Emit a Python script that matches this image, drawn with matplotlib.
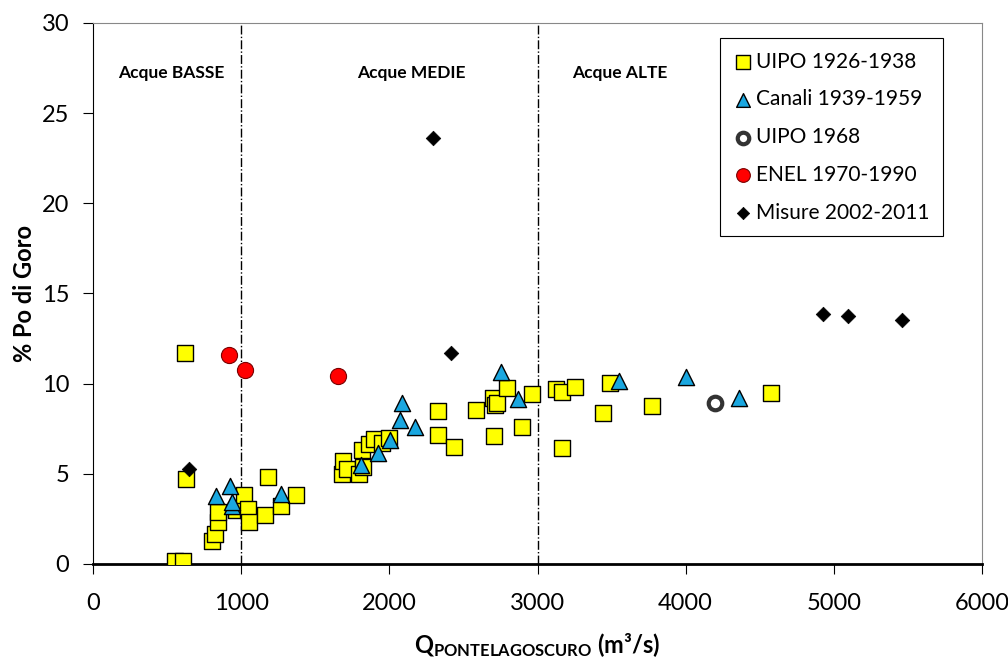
import matplotlib
matplotlib.use('Agg')
import matplotlib.pyplot as plt

plt.rcParams['font.family'] = ['Lato', 'DejaVu Sans']
plt.rcParams['mathtext.fontset'] = 'custom'
plt.rcParams['mathtext.bf'] = 'Lato:bold'
plt.rcParams['mathtext.rm'] = 'Lato'
plt.rcParams['mathtext.default'] = 'bf'

# UIPO 1926-1938
uipo_q = [553, 605, 621, 630, 801, 823, 846, 846, 963, 1017, 1044, 1055, 1163, 1183,
          1269, 1367, 1678, 1684, 1716, 1797, 1813, 1824, 1864, 1896, 1948, 2000,
          2330, 2330, 2433, 2584, 2704, 2701, 2712, 2724, 2794, 2895, 2962, 3124,
          3162, 3252, 3162, 3440, 3489, 3770, 4573]
uipo_p = [0.15, 0.15, 11.7, 4.7, 1.25, 1.65, 2.35, 2.9, 3.0, 3.85, 3.05, 2.3, 2.7, 4.8,
          3.2, 3.85, 5.0, 5.7, 5.25, 5.0, 6.3, 5.4, 6.65, 6.95, 6.7, 7.0,
          8.5, 7.15, 6.5, 8.55, 7.1, 9.2, 8.8, 8.9, 9.75, 7.6, 9.45, 9.7,
          9.55, 9.8, 6.45, 8.35, 10.05, 8.75, 9.5]

# Canali 1939-1959
canali_q = [830, 922, 936, 940, 1266, 1806, 1925, 2004, 2072, 2085, 2175, 2753, 2866,
            3552, 4001, 4361]
canali_p = [3.75, 4.35, 3.2, 3.45, 3.9, 5.5, 6.15, 6.9, 8.0, 8.95, 7.6, 10.65, 9.15,
            10.15, 10.35, 9.2]

# UIPO 1968
u68_q = [4195]
u68_p = [8.95]

# ENEL 1970-1990
enel_q = [918, 1028, 1653]
enel_p = [11.6, 10.75, 10.4]

# Misure 2002-2011
mis_q = [650, 2296, 2416, 4928, 5097, 5461]
mis_p = [5.25, 23.6, 11.7, 13.85, 13.75, 13.55]

limits = [1000, 3000]
regions = ['Acque BASSE', 'Acque MEDIE', 'Acque ALTE']
region_x = [525, 2148, 3554]

fig = plt.figure(figsize=(10.08, 6.59), dpi=100)
ax = fig.add_axes([0.0923, 0.1442, 0.8819, 0.8209])

ax.scatter(uipo_q, uipo_p, marker='s', s=125, c='#FFFF00', edgecolors='black',
           linewidths=1, label='UIPO 1926-1938', zorder=3)
ax.scatter(canali_q, canali_p, marker='^', s=135, c='#1AA7E0', edgecolors='black',
           linewidths=1, label='Canali 1939-1959', zorder=4)
ax.scatter(u68_q, u68_p, marker='o', s=95, c='white', edgecolors='#333333',
           linewidths=3, label='UIPO 1968', zorder=5)
ax.scatter(enel_q, enel_p, marker='o', s=135, c='#FF0000', edgecolors='#7a0000',
           linewidths=0.8, label='ENEL 1970-1990', zorder=5)
ax.scatter(mis_q, mis_p, marker='D', s=55, c='black', edgecolors='black',
           linewidths=0.5, label='Misure 2002-2011', zorder=6)

for xl in limits:
    ax.axvline(xl, color='black', linestyle='-.', linewidth=1, zorder=1)

for name, xr in zip(regions, region_x):
    ax.text(xr, 27.2, name, ha='center', va='center', fontsize=12.5,
            fontweight='bold')

ax.set_xlim(0, 6000)
ax.set_ylim(0, 30)
ax.set_xticks(range(0, 6001, 1000))
ax.set_yticks(range(0, 31, 5))
ax.tick_params(direction='out', length=7, labelsize=17)
ax.tick_params(axis='x', pad=14)
ax.tick_params(axis='y', pad=10)

ax.spines['left'].set_color('black')
ax.spines['bottom'].set_color('black')
ax.spines['bottom'].set_linewidth(2)
ax.spines['top'].set_color('#888888')
ax.spines['right'].set_color('#888888')

ax.set_ylabel('% Po di Goro', fontsize=17, fontweight='bold', labelpad=4)
ax.set_xlabel(r'Q$_{PONTELAGOSCURO}$ (m³/s)', fontsize=17,
              fontweight='bold', labelpad=12)

leg = ax.legend(loc='upper right', bbox_to_anchor=(0.956, 0.972), fontsize=15,
                frameon=True, fancybox=False, edgecolor='black', framealpha=1,
                labelspacing=0.85, handletextpad=0.15, handlelength=0.9,
                borderpad=0.65, borderaxespad=0, markerscale=0.85)
leg.get_frame().set_linewidth(0.8)

fig.savefig('out.png', dpi=100)
